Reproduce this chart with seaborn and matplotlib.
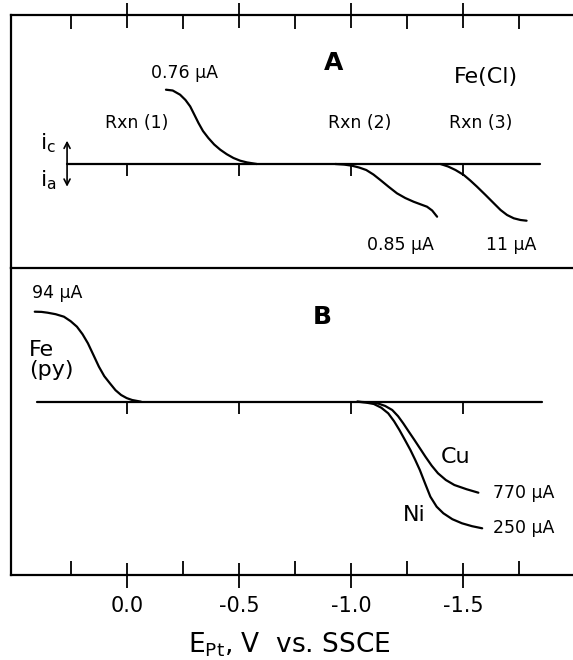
import numpy as np
import pandas as pd
import matplotlib
matplotlib.use("Agg")
import matplotlib.pyplot as plt
import seaborn as sns

sns.set_theme(style="white")
plt.rcParams['font.family'] = ['DejaVu Sans']
plt.rcParams['axes.unicode_minus'] = False
plt.rcParams['text.color'] = 'black'
plt.rcParams['xtick.color'] = 'black'
plt.rcParams['xtick.labelcolor'] = 'black'

# ---------------- data (potential V vs. SSCE, current in relative units) -------------
# Panel A
baseA_v = [0.266, -1.845]
baseA_i = [0.0, 0.0]
rxn1_v = [-0.175, -0.205, -0.238, -0.262, -0.283, -0.300, -0.320, -0.340, -0.364,
          -0.390, -0.417, -0.446, -0.476, -0.506, -0.536, -0.580]
rxn1_i = [74.3, 73.5, 69.3, 64.0, 57.6, 50.0, 41.0, 33.0, 26.0,
          19.5, 14.3, 9.8, 6.0, 3.3, 1.6, 0.0]
rxn2_v = [-0.930, -0.970, -1.004, -1.036, -1.068, -1.100, -1.131, -1.168, -1.205,
          -1.242, -1.279, -1.310, -1.339, -1.362, -1.384]
rxn2_i = [0.0, -0.6, -1.7, -3.5, -6.0, -10.5, -16.0, -22.8, -29.3,
          -34.0, -37.7, -40.3, -42.7, -46.5, -52.7]
rxn3_v = [-1.399, -1.433, -1.466, -1.503, -1.532, -1.562, -1.600, -1.637, -1.667,
          -1.696, -1.726, -1.756, -1.783]
rxn3_i = [0.0, -2.5, -6.0, -11.0, -16.5, -22.7, -31.0, -39.3, -46.0,
          -51.0, -54.3, -56.0, -56.7]

# Panel B
baseB_v = [0.402, -1.85]
baseB_i = [0.0, 0.0]
fe_v = [0.410, 0.380, 0.353, 0.317, 0.280, 0.250, 0.222, 0.197, 0.173, 0.148,
        0.124, 0.100, 0.075, 0.050, 0.025, 0.000, -0.024, -0.064]
fe_i = [90.0, 89.8, 89.0, 87.5, 85.0, 80.5, 75.0, 67.5, 58.4, 46.5,
        35.0, 25.5, 18.4, 11.5, 6.7, 3.6, 1.7, 0.0]
cu_v = [-1.028, -1.075, -1.118, -1.152, -1.184, -1.210, -1.233, -1.258, -1.283,
        -1.308, -1.332, -1.360, -1.388, -1.423, -1.461, -1.515, -1.568]
cu_i = [0.0, -0.6, -1.6, -4.2, -8.3, -14.5, -21.6, -30.0, -38.3,
        -46.8, -55.0, -64.0, -71.6, -78.3, -83.3, -87.5, -91.0]
ni_v = [-1.028, -1.065, -1.102, -1.135, -1.166, -1.192, -1.216, -1.240, -1.265,
        -1.286, -1.307, -1.330, -1.354, -1.382, -1.412, -1.452, -1.495, -1.540, -1.585]
ni_i = [0.0, -0.8, -2.3, -6.0, -11.6, -19.5, -28.3, -38.0, -48.3,
        -58.0, -68.3, -81.5, -95.0, -105.0, -111.6, -117.5, -121.6, -124.5, -126.6]

major_ticks = [0.0, -0.5, -1.0, -1.5]
major_labels = ["0.0", "-0.5", "-1.0", "-1.5"]
minor_ticks = [0.25, -0.25, -0.75, -1.25, -1.75]

XLIM = (0.516, -1.99)
YLIM_A = (-103.5, 149.0)
YLIM_B = (-173.3, 134.2)
BASE_TICK = 12.0   # length of the baseline tick marks (in current units = px)

W, H = 573, 660
fig = plt.figure(figsize=(W / 100, H / 100), dpi=100)
fig.patch.set_facecolor("white")

def fx(px):
    return px / W

def fy(py):
    return 1 - py / H

axA = fig.add_axes([fx(11), fy(267.5), 1 - fx(11), fy(15) - fy(267.5)])
axB = fig.add_axes([fx(11), fy(575), 1 - fx(11), fy(267.5) - fy(575)])

LW = 1.6
for ax, series, ylim in [
    (axA, [(baseA_v, baseA_i), (rxn1_v, rxn1_i), (rxn2_v, rxn2_i), (rxn3_v, rxn3_i)], YLIM_A),
    (axB, [(baseB_v, baseB_i), (fe_v, fe_i), (cu_v, cu_i), (ni_v, ni_i)], YLIM_B),
]:
    for v, i in series:
        df = pd.DataFrame({"v": v, "i": i})
        sns.lineplot(data=df, x="v", y="i", ax=ax, sort=False, estimator=None,
                     color="black", linewidth=LW)
    # tick marks hanging below the zero-current baseline
    ax.vlines(major_ticks, -BASE_TICK, 0, colors="black", linewidth=1.3)
    ax.set_xlim(*XLIM)
    ax.set_ylim(*ylim)
    ax.set_facecolor("white")
    ax.set_xlabel("")
    ax.set_ylabel("")
    ax.set_yticks([])
    ax.spines['right'].set_visible(False)
    for s in ['left', 'top', 'bottom']:
        ax.spines[s].set_color("black")
        ax.spines[s].set_linewidth(1.6)
    ax.set_xticks(major_ticks)
    ax.set_xticks(minor_ticks, minor=True)

# Panel A ticks on top
axA.xaxis.set_ticks_position('top')
axA.tick_params(axis='x', which='major', direction='inout', length=18, width=1.3,
                labeltop=False, labelbottom=False, color='black')
axA.tick_params(axis='x', which='minor', direction='in', length=10, width=1.3, color='black')
axA.spines['bottom'].set_visible(False)

# Panel B ticks on bottom
axB.xaxis.set_ticks_position('bottom')
axB.set_xticklabels(major_labels)
axB.tick_params(axis='x', which='major', direction='inout', length=18, width=1.3,
                labelsize=15, pad=6, color='black', labelcolor='black')
axB.tick_params(axis='x', which='minor', direction='in', length=10, width=1.3, color='black')

# current direction arrow in A
axA.annotate("", xy=(0.266, 23.3), xytext=(0.266, -22.7),
             arrowprops=dict(arrowstyle="<->,head_length=0.35,head_width=0.18",
                             color="black", lw=1.2, shrinkA=0, shrinkB=0))

fs_lab = 12.5
tk = dict(color="black", ha="center", va="center")
# Panel A texts
axA.text(-0.256, 90.7, "0.76 µA", fontsize=fs_lab, **tk)
axA.text(-0.921, 100.7, "A", fontsize=18, fontweight="bold", **tk)
axA.text(-1.600, 87.3, "Fe(Cl)", fontsize=16, **tk)
axA.text(-0.046, 40.7, "Rxn (1)", fontsize=12.5, **tk)
axA.text(-1.037, 40.7, "Rxn (2)", fontsize=12.5, **tk)
axA.text(-1.580, 40.7, "Rxn (3)", fontsize=12.5, **tk)
axA.text(-1.220, -81.0, "0.85 µA", fontsize=fs_lab, **tk)
axA.text(-1.716, -81.0, "11 µA", fontsize=fs_lab, **tk)
axA.text(0.351, 21.0, r"$\mathregular{i_c}$", fontsize=16, **tk)
axA.text(0.351, -16.0, r"$\mathregular{i_a}$", fontsize=16, **tk)

# Panel B texts
axB.text(0.308, 108.4, "94 µA", fontsize=fs_lab, **tk)
axB.text(-0.871, 85.0, "B", fontsize=18, fontweight="bold", **tk)
axB.text(0.436, 51.7, "Fe", fontsize=16, color="black", ha="left", va="center")
axB.text(0.436, 31.7, "(py)", fontsize=16, color="black", ha="left", va="center")
axB.text(-1.466, -55.0, "Cu", fontsize=16, **tk)
axB.text(-1.283, -113.3, "Ni", fontsize=16, **tk)
axB.text(-1.769, -91.0, "770 µA", fontsize=fs_lab, **tk)
axB.text(-1.771, -126.6, "250 µA", fontsize=fs_lab, **tk)

fig.text(fx(289), fy(645), r"E$_{\mathregular{Pt}}$, V  vs. SSCE", fontsize=19,
         color="black", ha="center", va="center")

fig.savefig("out.png", dpi=100, facecolor="white")
